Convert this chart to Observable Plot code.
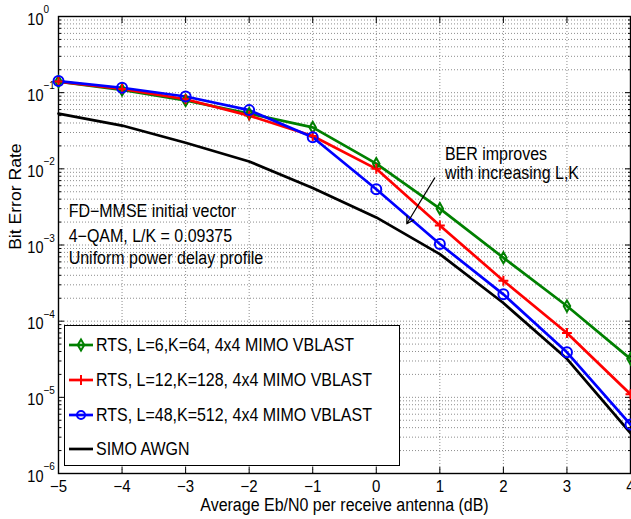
<!DOCTYPE html>
<html>
<head>
<meta charset="utf-8">
<script src="https://cdn.jsdelivr.net/npm/d3@7"></script>
<script src="https://cdn.jsdelivr.net/npm/@observablehq/plot@0.6"></script>
<style>
  html, body { margin: 0; padding: 0; background: #fff; }
  #wrap { position: relative; width: 631px; height: 519px; font-family: "Liberation Sans", Arial, Helvetica, sans-serif; }
  #legend { position: absolute; left: 64px; top: 325px; width: 334px; height: 139px; background: #fff; border: 1px solid #000; }
</style>
</head>
<body>
<div id="wrap"></div>
<script>
// ---- data ----
const snr = [-5, -4, -3, -2, -1, 0, 1, 2, 3, 4];
const berL6 = [0.14, 0.109, 0.079, 0.053, 0.035, 0.0117, 0.003, 0.00068, 0.000158, 0.000032];
const berL12 = [0.14, 0.112, 0.082, 0.05, 0.027, 0.01, 0.0018, 0.00034, 0.00007, 0.000011];
const berL48 = [0.142, 0.116, 0.089, 0.059, 0.026, 0.0054, 0.00103, 0.000225, 0.000039, 0.0000044];
const berAWGN = [0.053, 0.037, 0.022, 0.0125, 0.0056, 0.0023, 0.00076, 0.000173, 0.000032, 0.0000034];

const seriesNames = [
  "RTS, L=6,K=64, 4x4 MIMO VBLAST",
  "RTS, L=12,K=128, 4x4 MIMO VBLAST",
  "RTS, L=48,K=512, 4x4 MIMO VBLAST",
  "SIMO AWGN"
];
const seriesColors = ["#008000", "#ff0000", "#0000ff", "#000000"];
const seriesSymbols = ["diamond", "plus", "circle", null];
const seriesValues = [berL6, berL12, berL48, berAWGN];

const xTicks = [-5, -4, -3, -2, -1, 0, 1, 2, 3, 4];
const yDecades = [1e-6, 1e-5, 1e-4, 1e-3, 1e-2, 1e-1, 1];

const noteLines = ["FD\u2212MMSE initial vector", "4\u2212QAM, L/K = 0.09375", "Uniform power delay profile"];
const noteX = [-4.84, -4.84, -4.84];
const noteY = [0.0028, 0.00131, 0.00066];
const arrowNote = ["BER improves", "with increasing L,K"];
const arrowNoteX = [1.08, 1.08];
const arrowNoteY = [0.0153, 0.00885];
const arrowFrom = [0.92, 0.0076];
const arrowTo = [0.48, 0.0019];

// ---- derived ----
const rows = [];
seriesNames.forEach((name, i) => {
  seriesValues[i].forEach((v, j) => rows.push({series: name, x: snr[j], y: v, i}));
});
const yAll = [];
for (let e = -6; e < 0; e++) for (let k = 1; k <= 9; k++) yAll.push(k * Math.pow(10, e));
yAll.push(1);
const yMinor = yAll.filter(v => !yDecades.some(d => Math.abs(d - v) / d < 1e-9));
const expLabel = d => { const e = Math.round(Math.log10(d)); return e === 0 ? "0" : "\u2212" + (-e); };

const font = "'Liberation Sans', Arial, Helvetica, sans-serif";
const grid = {stroke: "#000", strokeOpacity: 0.45, strokeDasharray: "1,2", strokeWidth: 1};

const marks = [
  Plot.gridX({ticks: xTicks, ...grid}),
  Plot.gridY({ticks: yAll, ...grid}),
  Plot.frame({stroke: "#000", strokeWidth: 1.4}),
  // inward ticks
  Plot.axisX({ticks: xTicks, anchor: "bottom", tickSize: -6, tickFormat: () => "", label: null}),
  Plot.axisX({ticks: xTicks, anchor: "top", tickSize: -6, tickFormat: () => "", label: null}),
  Plot.axisY({ticks: yDecades, anchor: "left", tickSize: -6, tickFormat: () => "", label: null}),
  Plot.axisY({ticks: yDecades, anchor: "right", tickSize: -6, tickFormat: () => "", label: null}),
  Plot.axisY({ticks: yMinor, anchor: "left", tickSize: -3, tickFormat: () => "", label: null}),
  Plot.axisY({ticks: yMinor, anchor: "right", tickSize: -3, tickFormat: () => "", label: null}),
  // tick labels
  Plot.axisX({ticks: xTicks, anchor: "bottom", tickSize: 0, tickPadding: 7, fontSize: 15, label: null,
    tickFormat: d => d < 0 ? "\u2212" + (-d) : String(d)}),
  Plot.axisY({ticks: yDecades, anchor: "left", tickSize: 0, tickPadding: 15, fontSize: 14.5, dy: 3, label: null,
    tickFormat: () => "10"}),
  Plot.axisY({ticks: yDecades, anchor: "left", tickSize: 0, tickPadding: 15, fontSize: 10, dy: -7, textAnchor: "start", label: null,
    tickFormat: expLabel}),
  // axis titles
  Plot.text(["Average Eb/N0 per receive antenna (dB)"], {frameAnchor: "bottom", dy: 37, fontSize: 16}),
  Plot.text(["Bit Error Rate"], {frameAnchor: "left", rotate: -90, dx: -43, fontSize: 16}),
  // curves
  Plot.line(rows, {x: "x", y: "y", z: "series", stroke: d => seriesColors[d.i], strokeWidth: 2.7}),
  Plot.dot(rows.filter(d => seriesSymbols[d.i] === "diamond"), {x: "x", y: "y", symbol: "diamond", r: 3.4, stroke: seriesColors[0], strokeWidth: 2, fill: "none"}),
  Plot.dot(rows.filter(d => seriesSymbols[d.i] === "plus"), {x: "x", y: "y", symbol: "plus", r: 3.3, stroke: seriesColors[1], strokeWidth: 2, fill: "none"}),
  Plot.dot(rows.filter(d => seriesSymbols[d.i] === "circle"), {x: "x", y: "y", symbol: "circle", r: 5, stroke: seriesColors[2], strokeWidth: 2, fill: "none"}),
  // annotations
  Plot.text(noteLines, {x: (d, i) => noteX[i], y: (d, i) => noteY[i], text: d => d, textAnchor: "start", fontSize: 16}),
  Plot.text(arrowNote, {x: (d, i) => arrowNoteX[i], y: (d, i) => arrowNoteY[i], text: d => d, textAnchor: "start", fontSize: 16}),
  Plot.arrow([0], {x1: () => arrowFrom[0], y1: () => arrowFrom[1], x2: () => arrowTo[0], y2: () => arrowTo[1], stroke: "#000", strokeWidth: 1.2, headLength: 10, insetEnd: 0, insetStart: 0})
];

const chart = Plot.plot({
  width: 631,
  height: 519,
  marginLeft: 58,
  marginTop: 16,
  marginBottom: 46,
  marginRight: 1,
  style: {fontFamily: font, background: "#fff", color: "#000", overflow: "hidden"},
  x: {domain: [-5, 4], axis: null},
  y: {type: "log", domain: [1e-6, 1], axis: null},
  marks
});
const wrap = document.getElementById("wrap");
wrap.appendChild(chart);

// ---- legend (inside plot, like MATLAB) ----
const leg = document.createElement("div");
leg.id = "legend";
wrap.appendChild(leg);
const ls = d3.select(leg).append("svg").attr("width", 334).attr("height", 139).style("font-family", font);
const rowY = [19, 54, 89, 123];
seriesNames.forEach((name, i) => {
  const g = ls.append("g").attr("transform", `translate(0,${rowY[i]})`);
  g.append("line").attr("x1", 4).attr("x2", 28).attr("stroke", seriesColors[i]).attr("stroke-width", 2.7);
  if (seriesSymbols[i]) {
    const sym = {diamond: d3.symbolDiamond, plus: d3.symbolPlus, circle: d3.symbolCircle}[seriesSymbols[i]];
    const r = {diamond: 3.4, plus: 3.3, circle: 4}[seriesSymbols[i]];
    g.append("path").attr("transform", "translate(16,0)").attr("d", d3.symbol(sym, Math.PI * r * r)())
      .attr("fill", "none").attr("stroke", seriesColors[i]).attr("stroke-width", 2);
  }
  g.append("text").attr("x", 31).attr("dy", "0.35em").attr("font-size", 16).text(name);
});

// MATLAB export renders glyphs slightly tall: stretch text vertically about its own centre
const stretch = 1.1;
document.querySelectorAll("#wrap svg text").forEach(t => {
  if (!t.textContent) return;
  const b = t.getBBox();
  if (!b.width) return;
  const cx = b.x + b.width / 2, cy = b.y + b.height / 2;
  const rotated = (t.getAttribute("transform") || "").includes("rotate") || (t.parentNode.getAttribute && (t.parentNode.getAttribute("transform") || "").includes("rotate"));
  const s = rotated ? `scale(${stretch},1)` : `scale(1,${stretch})`;
  const prev = t.getAttribute("transform") || "";
  t.setAttribute("transform", `${prev} translate(${cx},${cy}) ${s} translate(${-cx},${-cy})`.trim());
});
</script>
</body>
</html>
